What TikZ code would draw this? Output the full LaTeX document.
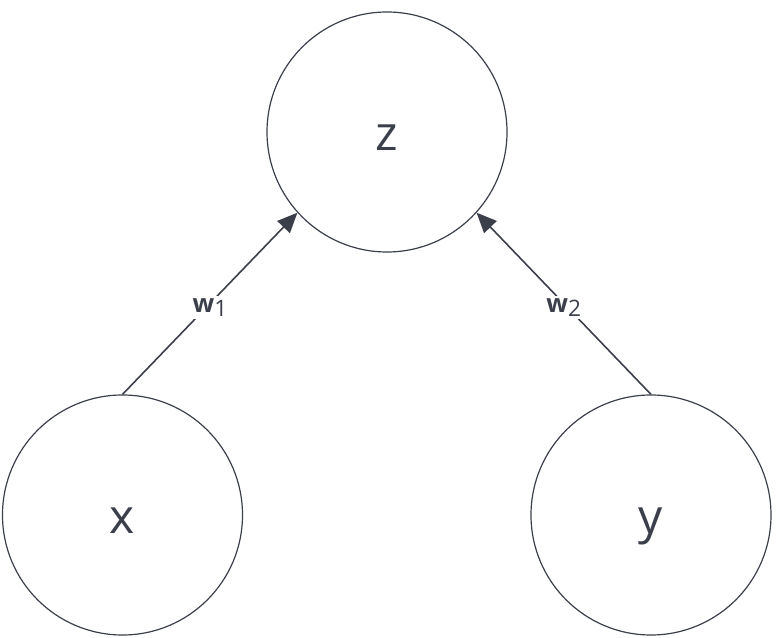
\documentclass[tikz,border=0pt]{standalone}
\usepackage{fontspec}
\setmainfont{Open Sans}
\usetikzlibrary{positioning,arrows.meta}
\definecolor{ink}{HTML}{3A3F4A}
\newcommand{\vname}[1]{\raisebox{-14pt}[0pt][0pt]{#1}}
\newcommand{\wname}[1]{w\raisebox{-3pt}{\fontsize{17}{20}\selectfont\mdseries #1}}

\begin{document}
\begin{tikzpicture}[x=0.75pt,y=-0.75pt,
  var/.style={draw=ink,circle,line width=0.9pt,minimum size=180pt,inner sep=0pt,
    text=ink,font=\fontsize{36}{40}\selectfont},
  wt/.style={fill=white,inner sep=2pt,yshift=-3pt,text=ink,font=\fontsize{19}{22}\selectfont\bfseries},
  arr/.style={-{Triangle[length=15pt,width=13pt]},draw=ink,line width=1.2pt}]
\useasboundingbox (0,0) rectangle (776,638);
\node[var] (z) at (387,132) {\vname{z}};
\node[var] (x) at (122.5,515) {\vname{x}};
\node[var] (y) at (651,515) {\vname{y}};
\draw[arr] (x.north) -- (z.222) node[midway,wt] {\wname{1}};
\draw[arr] (y.north) -- (z.318) node[midway,wt] {\wname{2}};
\end{tikzpicture}
\end{document}
